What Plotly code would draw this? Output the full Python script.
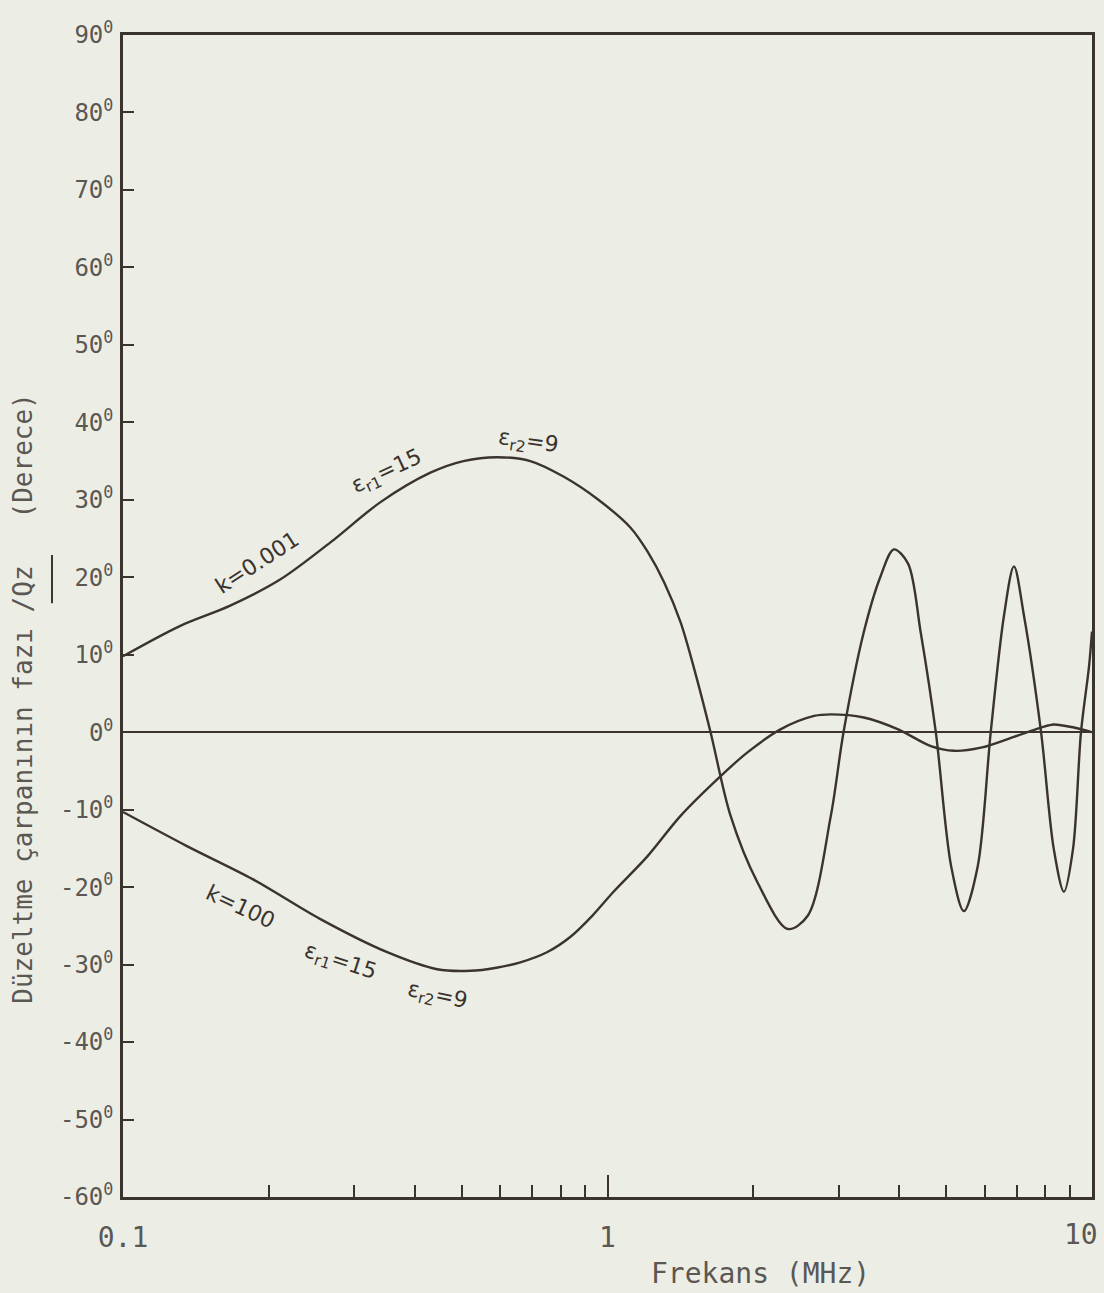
import plotly.graph_objects as go

# ---- data ----
freq_k0001 = [0.1, 0.131, 0.166, 0.211, 0.268, 0.340, 0.431, 0.504, 0.593, 0.693, 0.811, 0.953,
              1.116, 1.21, 1.31, 1.415, 1.52, 1.632, 1.795, 2.04, 2.355, 2.59, 2.89, 3.07, 3.38,
              3.66, 3.90, 4.17, 4.43, 4.76, 5.12, 5.44, 5.81, 6.18, 6.58, 6.90, 7.24, 7.85, 8.34,
              8.75, 9.14, 9.49, 9.86, 10.0]
phase_k0001 = [9.8, 13.7, 16.3, 19.7, 24.5, 29.7, 33.5, 35.0, 35.5, 35.0, 33.0, 30.1,
               26.4, 23.3, 19.3, 14.2, 7.5, 0.0, -10.8, -19.4, -25.4, -23.7, -10.8, 0.0, 12.9,
               20.1, 23.6, 21.8, 12.9, 0.0, -17.3, -23.1, -17.3, 0.0, 15.0, 21.4, 15.0, 0.0, -15.1,
               -20.6, -15.0, 0.0, 8.5, 13.0]

freq_k100 = [0.1, 0.1355, 0.1856, 0.255, 0.351, 0.445, 0.521, 0.59, 0.661, 0.75, 0.839, 0.93,
             1.029, 1.21, 1.415, 1.71, 1.945, 2.28, 2.67, 2.89, 3.38, 3.97, 4.65, 5.19, 5.90,
             6.90, 7.85, 8.34, 9.18, 10.0]
phase_k100 = [-10.3, -14.7, -19.0, -24.1, -28.4, -30.6, -30.8, -30.4, -29.7, -28.4, -26.4, -23.7,
              -20.6, -16.0, -10.8, -5.7, -2.6, 0.4, 2.1, 2.3, 1.9, 0.4, -1.8, -2.4, -2.0,
              -0.6, 0.6, 1.0, 0.6, 0.0]

y_ticks = [90, 80, 70, 60, 50, 40, 30, 20, 10, 0, -10, -20, -30, -40, -50, -60]
x_ticks = [0.1, 1, 10]
x_tick_labels = ["0.1", "1", ""]
x_last_label = "10"
x_minor = [0.2, 0.3, 0.4, 0.5, 0.6, 0.7, 0.8, 0.9, 2, 3, 4, 5, 6, 7, 8, 9]

INK = "#3b332d"
TXT = "#5b5752"
BG = "#eceee6"
MONO = "DejaVu Sans Mono"
HAND = "DejaVu Sans"

fig = go.Figure()
for fx, py in [(freq_k0001, phase_k0001), (freq_k100, phase_k100)]:
    fig.add_trace(go.Scatter(x=fx, y=py, mode="lines",
                             line=dict(color=INK, width=2.4, shape="spline", smoothing=0.9),
                             showlegend=False, hoverinfo="skip"))

fig.update_layout(
    width=1104, height=1293,
    margin=dict(l=123, r=12, t=35, b=96, autoexpand=False),
    paper_bgcolor=BG, plot_bgcolor=BG,
    font=dict(family=MONO, color=TXT),
)

fig.update_xaxes(
    type="log", range=[-1, 1], automargin=False,
    tickvals=x_ticks, ticktext=x_tick_labels,
    ticks="inside", ticklen=22, tickwidth=2, tickcolor=INK,
    minor=dict(tickvals=x_minor, ticks="inside", ticklen=12, tickwidth=2, tickcolor=INK),
    showgrid=False, zeroline=False,
    showline=True, linecolor=INK, linewidth=2.5, mirror=True,
    tickfont=dict(family=MONO, size=28, color=TXT),
    ticklabelstandoff=14, ticklabeloverflow="allow",
)
fig.update_yaxes(
    range=[-60, 90], automargin=False,
    tickvals=y_ticks, ticktext=[f"{v}<sup>0</sup>" for v in y_ticks],
    ticks="inside", ticklen=11, tickwidth=2, tickcolor=INK,
    showgrid=False,
    zeroline=True, zerolinecolor=INK, zerolinewidth=2.4,
    showline=True, linecolor=INK, linewidth=2.5, mirror=True,
    tickfont=dict(family=MONO, size=24, color=TXT),
    ticklabelstandoff=2, ticklabeloverflow="allow",
)

# last x tick label, right-aligned so it stays inside the page
fig.add_annotation(x=1, xref="x", yref="paper", y=(1197 - 1234) / 1162,
                   xanchor="right", yanchor="middle", xshift=8,
                   text=x_last_label, showarrow=False,
                   font=dict(family=MONO, size=28, color=TXT))

nb = "\u00a0"
fig.add_annotation(xref="paper", yref="paper", x=-0.104, y=0.429,
                   xanchor="center", yanchor="middle",
                   text=f"Düzeltme çarpanının fazı /Qz{nb*3}(Derece)",
                   textangle=-90, showarrow=False,
                   font=dict(family=MONO, size=26, color=TXT))
fig.add_shape(type="line", xref="paper", yref="paper",
              x0=-0.0733, x1=-0.0733, y0=0.511, y1=0.5525,
              line=dict(color=INK, width=2))
fig.add_annotation(xref="paper", yref="paper", x=(760 - 123) / 969, y=(1197 - 1273) / 1162,
                   xanchor="center", yanchor="middle",
                   text="Frekans (MHz)", showarrow=False,
                   font=dict(family=MONO, size=28, color=TXT))

labels = [
    (-0.723, 21.9, "k=0.001", -33),
    (-0.455, 33.5, "ε<sub>r1</sub>=15", -25),
    (-0.165, 37.4, "ε<sub>r2</sub>=9", 8),
    (-0.758, -22.5, "k=100", 25),
    (-0.552, -29.7, "ε<sub>r1</sub>=15", 18),
    (-0.351, -34.1, "ε<sub>r2</sub>=9", 12),
]
for lx, ly, lt, ang in labels:
    fig.add_annotation(x=lx, y=ly, text=lt, textangle=ang, showarrow=False,
                       xanchor="center", yanchor="middle",
                       font=dict(family=HAND, size=22, color=INK))

fig.write_html("out.html", config={"displayModeBar": False},
               post_script="document.body.style.margin='0px';")
